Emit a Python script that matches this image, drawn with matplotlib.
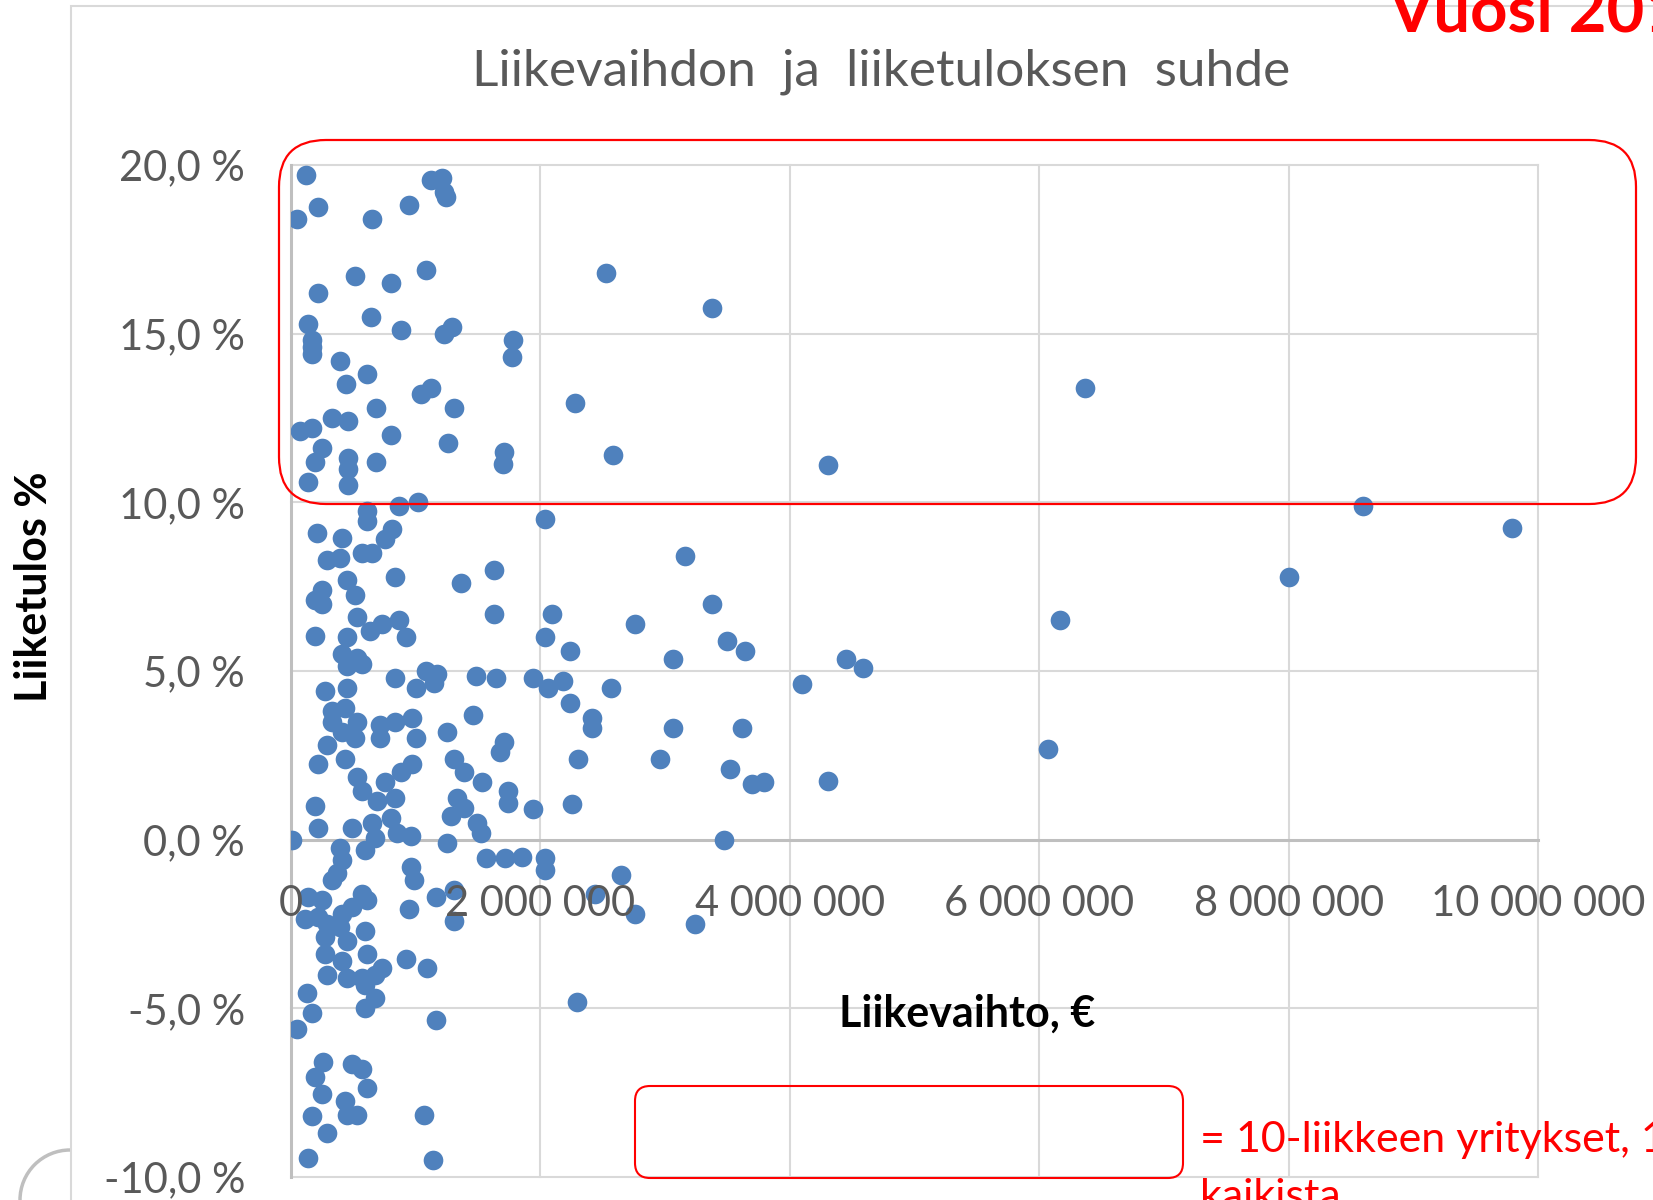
# Liikevaihdon ja liiketuloksen suhde - scatter with Excel-like styling
import matplotlib
matplotlib.use("Agg")
import matplotlib.pyplot as plt
from matplotlib.patches import FancyBboxPatch, Rectangle, Arc

FONT = ['Lato', 'DejaVu Sans']
plt.rcParams['font.family'] = FONT

# liikevaihto (milj. €) ja liiketulos (%) luettuna kuvasta
revenue_m = [
    0.12, 0.22, 0.05, 0.65, 0.95, 1.12, 1.21, 1.23, 1.24,
    0.51, 0.80, 1.08, 0.22, 0.14, 0.64, 0.88, 1.23, 1.29,
    0.17, 0.17, 0.17, 0.39, 0.61, 0.44, 1.04, 1.12, 1.78, 1.77,
    0.68, 1.31, 0.07, 0.17, 0.33, 0.46, 0.80, 1.26,
    0.25, 0.19, 0.14, 0.46, 0.46, 0.46, 0.68, 1.71, 1.70,
    2.53, 3.38, 2.28, 2.58, 6.37, 4.31,
    0.61, 0.61, 0.87, 1.02, 0.21, 0.41, 0.81, 0.75, 0.65, 0.57,
    0.29, 0.39, 0.83, 1.36, 1.63, 1.63, 0.25, 0.25, 0.19, 0.45, 0.51,
    0.53, 0.63, 0.73, 0.87, 0.92, 0.19, 0.45, 0.41, 0.53,
    2.04, 3.16, 2.09, 2.76, 3.38, 2.04, 2.24, 3.06, 3.50, 3.64,
    8.60, 9.79, 8.00, 6.17, 4.45, 4.59,
    0.45, 0.57, 0.83, 1.00, 1.08, 1.17, 1.15, 1.48, 1.64, 0.45, 0.27,
    0.33, 0.43, 0.53, 0.41, 0.51, 0.33, 0.71, 0.71, 0.83, 0.97, 1.00,
    1.25, 1.46, 1.71, 1.68, 0.29, 0.22, 0.43, 0.97, 0.88, 1.31, 1.39, 1.53,
    0.53, 0.57, 0.75, 0.69, 0.83, 1.74, 1.74, 0.19, 0.22, 1.33, 1.39, 1.28,
    1.49, 1.52, 0.49, 0.65, 0.67, 0.80, 0.85, 0.96, 0.01,
    1.94, 2.06, 2.18, 2.24, 2.41, 2.41, 2.57, 3.06, 2.30, 2.96, 1.94, 2.25,
    3.62, 3.52, 3.70, 3.79, 3.47, 4.10, 4.31, 6.07,
    1.25, 1.56, 1.72, 1.85, 2.04, 2.04, 0.59, 0.39, 0.41, 0.33, 0.37,
    0.96, 0.99, 0.14, 0.25, 0.11, 0.22, 0.29, 0.57, 0.61, 0.49, 0.41,
    0.95, 1.16, 1.31, 1.31, 2.65, 2.44, 2.76, 3.24,
    0.27, 0.39, 0.45, 0.59, 0.27, 0.41, 0.61, 0.73, 0.29, 0.45, 0.57, 0.67, 0.59,
    0.92, 1.09, 0.13, 0.67, 0.59, 0.17, 0.05, 1.16, 2.29,
    0.26, 0.19, 0.25, 0.49, 0.57, 0.61, 0.43, 0.45, 0.53, 0.17, 0.29, 1.07, 0.14, 1.14,
]
margin_pct = [
    19.7, 18.75, 18.4, 18.4, 18.8, 19.55, 19.6, 19.2, 19.05,
    16.7, 16.5, 16.9, 16.2, 15.3, 15.5, 15.1, 15.0, 15.2,
    14.8, 14.6, 14.4, 14.2, 13.8, 13.5, 13.2, 13.4, 14.8, 14.3,
    12.8, 12.8, 12.1, 12.2, 12.5, 12.4, 12.0, 11.75,
    11.6, 11.2, 10.6, 11.3, 11.0, 10.5, 11.2, 11.5, 11.15,
    16.8, 15.75, 12.95, 11.4, 13.4, 11.1,
    9.75, 9.45, 9.9, 10.0, 9.1, 8.95, 9.2, 8.9, 8.5, 8.5,
    8.3, 8.35, 7.8, 7.6, 8.0, 6.7, 7.4, 7.0, 7.1, 7.7, 7.25,
    6.6, 6.2, 6.4, 6.5, 6.0, 6.05, 6.0, 5.5, 5.4,
    9.5, 8.4, 6.7, 6.4, 7.0, 6.0, 5.6, 5.35, 5.9, 5.6,
    9.9, 9.25, 7.8, 6.5, 5.35, 5.1,
    5.15, 5.2, 4.8, 4.5, 5.0, 4.9, 4.65, 4.85, 4.8, 4.5, 4.4,
    3.8, 3.9, 3.5, 3.2, 3.0, 3.5, 3.4, 3.0, 3.5, 3.6, 3.0,
    3.2, 3.7, 2.9, 2.6, 2.8, 2.25, 2.4, 2.25, 2.0, 2.4, 2.0, 1.7,
    1.85, 1.45, 1.7, 1.15, 1.25, 1.45, 1.1, 1.0, 0.35, 1.25, 0.95, 0.7,
    0.5, 0.2, 0.35, 0.5, 0.05, 0.65, 0.2, 0.1, 0.0,
    4.8, 4.5, 4.7, 4.05, 3.6, 3.3, 4.5, 3.3, 2.4, 2.4, 0.9, 1.05,
    3.3, 2.1, 1.65, 1.7, 0.0, 4.6, 1.75, 2.7,
    -0.1, -0.55, -0.55, -0.5, -0.55, -0.9, -0.3, -0.25, -0.6, -1.2, -1.0,
    -0.8, -1.2, -1.7, -1.8, -2.35, -2.3, -2.5, -1.6, -1.8, -2.0, -2.2,
    -2.05, -1.7, -1.5, -2.4, -1.05, -1.6, -2.2, -2.5,
    -2.9, -2.6, -3.0, -2.7, -3.4, -3.6, -3.4, -3.8, -4.0, -4.1, -4.1, -4.0, -4.3,
    -3.55, -3.8, -4.55, -4.7, -5.0, -5.15, -5.6, -5.35, -4.8,
    -6.6, -7.05, -7.55, -6.65, -6.8, -7.35, -7.75, -8.15, -8.15, -8.2, -8.7, -8.15, -9.45, -9.5,
]

x_ticks = [0, 2000000, 4000000, 6000000, 8000000, 10000000]
y_ticks = [-10, -5, 0, 5, 10, 15, 20]

title = "Liikevaihdon  ja  liiketuloksen  suhde"
xlabel = "Liikevaihto, €"
ylabel = "Liiketulos %"

GRID = '#d9d9d9'
AXIS = '#bfbfbf'
TXT = '#595959'
BLUE = '#4f81bd'
RED = '#ff0000'

fig = plt.figure(figsize=(16.53, 12), dpi=100)
ax = fig.add_axes([291/1653, 1 - 1177/1200, (1538 - 291)/1653, (1177 - 165)/1200])

revenue = [v * 1e6 for v in revenue_m]
ax.scatter(revenue, margin_pct, s=200, color=BLUE, linewidths=0, zorder=3)

ax.set_xlim(0, 10000000)
ax.set_ylim(-10, 20)

# grid lines below the markers
for yv in y_ticks:
    if yv != 0:
        ax.axhline(yv, color=GRID, lw=1.5, zorder=0.5, clip_on=False)
for xv in x_ticks[1:]:
    ax.axvline(xv, color=GRID, lw=1.5, zorder=0.5, clip_on=False)

for s in ['top', 'right']:
    ax.spines[s].set_visible(False)
ax.spines['bottom'].set_position(('data', 0))
ax.spines['left'].set_color(AXIS)
ax.spines['bottom'].set_color(AXIS)
ax.spines['left'].set_linewidth(2.2)
ax.spines['bottom'].set_linewidth(2.2)
ax.spines['left'].set_zorder(1)
ax.spines['bottom'].set_zorder(1)

ax.set_yticks(y_ticks)
ax.set_yticklabels([("%.1f" % v).replace('.', ',') + " %" for v in y_ticks])
ax.tick_params(axis='y', length=0, pad=33, labelsize=30, labelcolor=TXT)
ax.set_xticks(x_ticks)
ax.set_xticklabels([])
ax.tick_params(axis='x', length=0)
for lbl in ax.get_yticklabels():
    lbl.set_family(FONT)

# x tick labels drawn above the markers, as in Excel
for xv in x_ticks:
    txt = "{:,}".format(xv).replace(',', ' ')
    ax.annotate(txt, (xv, 0), xytext=(0, -46), textcoords='offset points',
                ha='center', va='center', fontsize=30, color=TXT,
                zorder=5, annotation_clip=False)

fig.text(881/1653, 1 - 72/1200, title, ha='center', va='center',
         fontsize=37, color=TXT)
fig.text(967/1653, 1 - 1014/1200, xlabel, ha='center', va='center',
         fontsize=31, fontweight='bold', color='black')
fig.text(34/1653, 1 - 587/1200, ylabel, ha='center', va='center',
         rotation=90, fontsize=31, fontweight='bold', color='black')

# chart frame and logo fragment
fig.patches.append(Rectangle((0.71, -1), 20, 12.94, transform=fig.dpi_scale_trans,
                             fill=False, ec=GRID, lw=1.5))
fig.patches.append(Arc((0.70, 0.0), 1.0, 1.0, theta1=90, theta2=180,
                       transform=fig.dpi_scale_trans, ec=AXIS, lw=2.5))

# red highlight boxes (inches)
fig.patches.append(FancyBboxPatch((2.79, 6.96), 13.57, 3.64,
                                  boxstyle="round,pad=0,rounding_size=0.47",
                                  transform=fig.dpi_scale_trans,
                                  fill=False, ec=RED, lw=1.6, zorder=6))
fig.patches.append(FancyBboxPatch((6.35, 0.22), 5.48, 0.92,
                                  boxstyle="round,pad=0,rounding_size=0.15",
                                  transform=fig.dpi_scale_trans,
                                  fill=False, ec=RED, lw=1.5, zorder=6))

fig.text(1200/1653, 1 - 1152/1200, "= 10-liikkeen yritykset, 10 %",
         ha='left', va='baseline', fontsize=31, color=RED)
fig.text(1200/1653, 1 - 1209/1200, "kaikista",
         ha='left', va='baseline', fontsize=31, color=RED)
fig.text(1388/1653, 1 - 32/1200, "Vuosi 2018",
         ha='left', va='baseline', fontsize=47, fontweight='bold', color=RED)

fig.savefig("out.png", dpi=100)
